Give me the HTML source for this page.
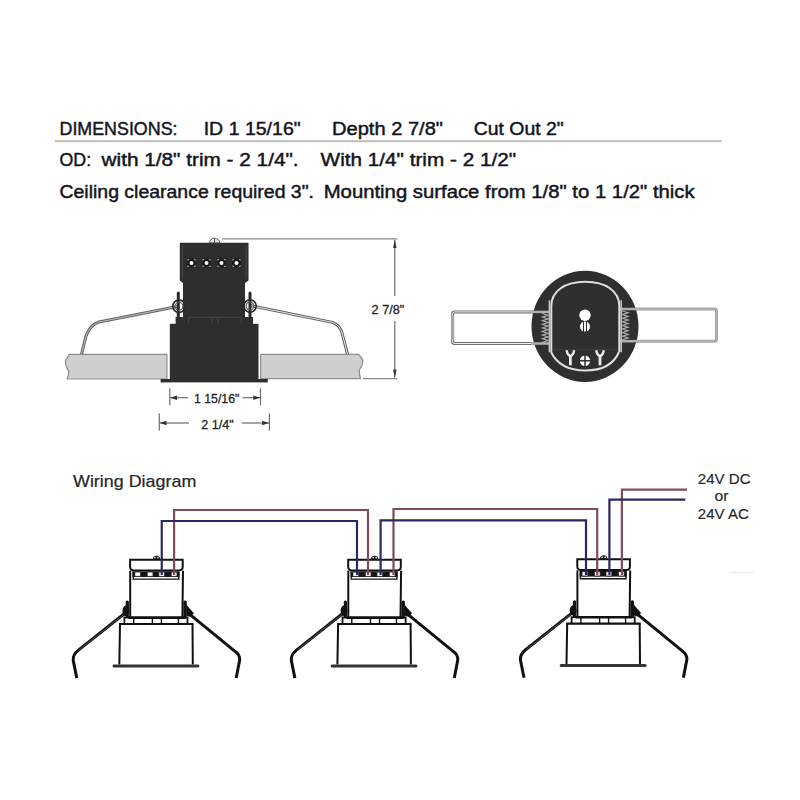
<!DOCTYPE html>
<html><head><meta charset="utf-8">
<style>
html,body{margin:0;padding:0;background:#fff;width:800px;height:800px;overflow:hidden}
svg{display:block}
text{font-family:"Liberation Sans",sans-serif}
</style></head>
<body>
<svg width="800" height="800" viewBox="0 0 800 800">
<rect width="800" height="800" fill="#fff"/>
<!-- header -->
<g fill="#141420" stroke="#141420" stroke-width="0.45" font-size="18.3">
<text x="59.5" y="134.7" textLength="118" lengthAdjust="spacingAndGlyphs">DIMENSIONS:</text>
<text x="203.7" y="134.7" textLength="97" lengthAdjust="spacingAndGlyphs">ID 1 15/16"</text>
<text x="332" y="134.7" textLength="111" lengthAdjust="spacingAndGlyphs">Depth 2 7/8"</text>
<text x="473.7" y="134.7" textLength="90" lengthAdjust="spacingAndGlyphs">Cut Out 2"</text>
<text x="59.5" y="165.8" textLength="31.6" lengthAdjust="spacingAndGlyphs">OD:</text>
<text x="101.6" y="165.8" textLength="197" lengthAdjust="spacingAndGlyphs">with 1/8" trim - 2 1/4".</text>
<text x="320.6" y="165.8" textLength="195.5" lengthAdjust="spacingAndGlyphs">With 1/4" trim - 2 1/2"</text>
<text x="59.5" y="197.8" textLength="254.5" lengthAdjust="spacingAndGlyphs">Ceiling clearance required 3".</text>
<text x="323.7" y="197.8" textLength="371" lengthAdjust="spacingAndGlyphs">Mounting surface from 1/8" to 1 1/2" thick</text>
</g>
<rect x="54.7" y="140.2" width="667" height="2" fill="#bdbdbd"/>

<!-- side view -->
<g id="side">
  <!-- slabs -->
  <path d="M69.3,354.4 L166.9,354.4 L166.9,379 L67.1,379 Q68.8,375 68.8,371.4 Q65.2,366 65.4,360.8 Z" fill="#cfcfcf" stroke="#8e8e8e" stroke-width="1.2"/>
  <path d="M260.7,354.3 L358.3,354.3 Q361.5,357 362.8,360.2 Q363,365 359.3,369.8 Q359.2,375 360.5,378.7 L260.7,378.7 Z" fill="#cfcfcf" stroke="#8e8e8e" stroke-width="1.2"/>
  <!-- springs -->
  <path d="M178.6,306.2 L99,322 Q90,325 86,336 L81.5,354.4" fill="none" stroke="#666" stroke-width="3"/>
  <path d="M178.6,306.2 L99,322 Q90,325 86,336 L81.5,354.4" fill="none" stroke="#c4c4c4" stroke-width="0.9"/>
  <path d="M250.1,305.5 L332.3,322.4 Q340,325 342,333 L347.6,354.3" fill="none" stroke="#5e5e5e" stroke-width="3"/>
  <path d="M250.1,305.5 L332.3,322.4 Q340,325 342,333 L347.6,354.3" fill="none" stroke="#e8e8e8" stroke-width="1"/>
  <!-- body -->
  <g fill="#2e2e2e">
    <path d="M179.8,242.8 L248.5,242.8 L248.5,280.6 L245,283 L245,317 L183,317 L183,283 L179.8,280.6 Z"/>
    <rect x="175.6" y="317" width="77.4" height="7"/>
    <rect x="169.8" y="323.8" width="88.7" height="55.5"/>
    <rect x="160.6" y="379" width="107.2" height="3.4"/>
  </g>
  <g stroke="#464646" stroke-width="1" fill="none">
    <path d="M188.5,323.5 L188.5,317.3 L241,317.3 L241,323.5"/>
    <line x1="212" y1="317.5" x2="212" y2="323.5"/>
    <line x1="218" y1="317.5" x2="218" y2="323.5"/>
    <line x1="182.5" y1="246" x2="182.5" y2="279"/>
    <line x1="246" y1="246" x2="246" y2="279"/>
  </g>
  <!-- terminals -->
  <g fill="#1a1a1a">
    <rect x="187" y="258.5" width="9" height="9"/>
    <rect x="202" y="258.5" width="9" height="9"/>
    <rect x="217" y="258.5" width="9" height="9"/>
    <rect x="232" y="258.5" width="9" height="9"/>
  </g>
  <g fill="#fff">
    <circle cx="191.5" cy="263" r="2"/>
    <circle cx="206.5" cy="263" r="2"/>
    <circle cx="221.5" cy="263" r="2"/>
    <circle cx="236.5" cy="263" r="2"/>
  </g>
  <g fill="#bbb">
    <path d="M187.5,259 l2,0 l-2,2 z M195.5,259 l-2,0 l2,2 z M187.5,267 l2,0 l-2,-2 z M195.5,267 l-2,0 l2,-2 z"/>
    <path d="M202.5,259 l2,0 l-2,2 z M210.5,259 l-2,0 l2,2 z M202.5,267 l2,0 l-2,-2 z M210.5,267 l-2,0 l2,-2 z"/>
    <path d="M217.5,259 l2,0 l-2,2 z M225.5,259 l-2,0 l2,2 z M217.5,267 l2,0 l-2,-2 z M225.5,267 l-2,0 l2,-2 z"/>
    <path d="M232.5,259 l2,0 l-2,2 z M240.5,259 l-2,0 l2,2 z M232.5,267 l2,0 l-2,-2 z M240.5,267 l-2,0 l2,-2 z"/>
  </g>
  <path d="M209.3,242.8 A5.2,4.6 0 0 1 219.7,242.8 Z" fill="#e6e6e6" stroke="#555" stroke-width="1"/>
  <line x1="214.5" y1="238.6" x2="214.5" y2="242.8" stroke="#555" stroke-width="1"/>
  <!-- clips -->
  <g stroke="#2a2a2a" fill="none">
    <line x1="178.3" y1="293" x2="178.3" y2="317" stroke-width="3" stroke-linecap="round"/>
    <line x1="250" y1="293" x2="250" y2="317" stroke-width="3" stroke-linecap="round"/>
    <circle cx="179" cy="306.3" r="6.2" stroke-width="1.6"/>
    <circle cx="250" cy="306" r="6.2" stroke-width="1.6"/>
    <circle cx="179" cy="306.3" r="3.9" stroke-width="1.1" stroke="#555"/>
    <circle cx="250" cy="306" r="3.9" stroke-width="1.1" stroke="#555"/>
  </g>
  <!-- dimension 2 7/8 -->
  <g stroke="#6e6e6e" stroke-width="1.2" fill="none">
    <line x1="222" y1="238.8" x2="397.5" y2="238.8" stroke="#8a8a8a"/>
    <line x1="363" y1="378.6" x2="397.5" y2="378.6" stroke="#8a8a8a"/>
    <line x1="394.8" y1="240" x2="394.8" y2="296"/>
    <line x1="394.8" y1="321" x2="394.8" y2="377"/>
    <line x1="169.8" y1="388.2" x2="169.8" y2="405.3"/>
    <line x1="260.5" y1="388.2" x2="260.5" y2="405.3"/>
    <line x1="170" y1="397.7" x2="188" y2="397.7"/>
    <line x1="242.6" y1="397.7" x2="260" y2="397.7"/>
    <line x1="159.3" y1="413.4" x2="159.3" y2="430.6"/>
    <line x1="269.4" y1="413.4" x2="269.4" y2="430.6"/>
    <line x1="160" y1="423" x2="189" y2="423"/>
    <line x1="241.8" y1="423" x2="269" y2="423"/>
  </g>
  <g fill="#333">
    <path d="M394.8,239.2 L393.1,248 L396.5,248 Z"/>
    <path d="M394.8,378.2 L393.1,369.4 L396.5,369.4 Z"/>
    <path d="M170.3,397.7 L177,395.5 L177,399.9 Z"/>
    <path d="M260,397.7 L253.3,395.5 L253.3,399.9 Z"/>
    <path d="M159.8,423 L166.5,420.8 L166.5,425.2 Z"/>
    <path d="M268.9,423 L262.2,420.8 L262.2,425.2 Z"/>
  </g>
  <g fill="#222" stroke="#222" stroke-width="0.3" font-size="13.5">
    <text x="371.6" y="313.8" textLength="32.7" lengthAdjust="spacingAndGlyphs">2 7/8"</text>
    <text x="193.9" y="402.6" textLength="45.5" lengthAdjust="spacingAndGlyphs">1 15/16"</text>
    <text x="201.2" y="428.6" textLength="32.5" lengthAdjust="spacingAndGlyphs">2 1/4"</text>
  </g>
</g>

<!-- top view -->
<g id="top">
  <path d="M552,311.9 L454.5,311.9 Q452.6,311.9 452.6,313.8 L452.6,341.6 Q452.6,343.5 454.5,343.5 L552,343.5" fill="none" stroke="#6c6c6c" stroke-width="3"/>
  <path d="M552,311.9 L454.5,311.9 Q452.6,311.9 452.6,313.8 L452.6,341.6 Q452.6,343.5 454.5,343.5 L552,343.5" fill="none" stroke="#f2f2f2" stroke-width="1"/>
  <path d="M452.6,315 L452.6,340" fill="none" stroke="#a8a8a8" stroke-width="3"/>
  <path d="M618,309 L714.5,309 Q716.5,309 716.5,311 L716.5,339.2 Q716.5,341.2 714.5,341.2 L618,341.2" fill="none" stroke="#a2a2a2" stroke-width="3"/>
  <path d="M618,309 L714.5,309 Q716.5,309 716.5,311 L716.5,339.2 Q716.5,341.2 714.5,341.2 L618,341.2" fill="none" stroke="#b8b8b8" stroke-width="1"/>
  <ellipse cx="585" cy="326.3" rx="53.5" ry="55.6" fill="#2f2f2f"/>
  <!-- coil springs -->
  <g stroke="#a6a6a6" stroke-width="1.3" fill="none" stroke-linecap="round">
    <path d="M542.5,313.5 l5.5,1.8 l-5.5,1.8 l5.5,1.8 l-5.5,1.8 l5.5,1.8 l-5.5,1.8 l5.5,1.8 l-5.5,1.8 l5.5,1.8 l-5.5,1.8 l5.5,1.8 l-5.5,1.8 l5.5,1.8 l-5.5,1.8 l5.5,1.8 l-5.5,1.8 "/>
    <path d="M622.5,311 l5.5,1.8 l-5.5,1.8 l5.5,1.8 l-5.5,1.8 l5.5,1.8 l-5.5,1.8 l5.5,1.8 l-5.5,1.8 l5.5,1.8 l-5.5,1.8 l5.5,1.8 l-5.5,1.8 l5.5,1.8 l-5.5,1.8 l5.5,1.8 l-5.5,1.8 "/>
  </g>
  <!-- wire pieces over circle -->
  <g stroke="#b0b0b0" stroke-width="2.5">
    <line x1="531" y1="311.9" x2="550" y2="311.9"/>
    <line x1="531" y1="343.5" x2="550" y2="343.5"/>
    <line x1="620" y1="309" x2="639" y2="309"/>
    <line x1="620" y1="341.2" x2="639" y2="341.2"/>
  </g>
  <g fill="none" stroke="#dedede" stroke-width="2">
    <path d="M551.3,352 L551.3,306 C551.3,291 565,281.7 585.2,281.7 C605.5,281.7 619.3,291 619.3,306 L619.3,352"/>
    <path d="M551,352 Q560,370.5 585.4,370.5 Q611,370.5 619,352"/>
  </g>
  <g stroke="#c4c4c4" stroke-width="1.6">
    <line x1="549.4" y1="300.3" x2="549.4" y2="352.2"/>
    <line x1="621.2" y1="300.3" x2="621.2" y2="352.2"/>
  </g>
  <line x1="553" y1="349.6" x2="618" y2="349.6" stroke="#3e3e3e" stroke-width="1"/>
  <g fill="#fff">
    <circle cx="585" cy="315.3" r="5.7"/>
    <circle cx="585" cy="326.6" r="5"/>
    <circle cx="585" cy="360.8" r="5.2"/>
  </g>
  <g stroke="#2f2f2f" stroke-width="1">
    <line x1="583.5" y1="321" x2="583.5" y2="332"/>
    <line x1="586.5" y1="321" x2="586.5" y2="332"/>
    <line x1="579" y1="360.8" x2="591" y2="360.8" stroke-width="1.5"/>
    <line x1="585" y1="354.8" x2="585" y2="366.8" stroke-width="1.5"/>
  </g>
  <g stroke="#ececec" fill="none">
    <path d="M566.6,350.3 Q567.5,355.5 570.4,356 Q573.3,355.5 574.2,350.3" stroke-width="2.4"/>
    <path d="M570.4,355 L570.4,365.3" stroke-width="2.8"/>
    <path d="M596.2,350.3 Q597.1,355.5 600,356 Q602.9,355.5 603.8,350.3" stroke-width="2.4"/>
    <path d="M600,355 L600,365.3" stroke-width="2.8"/>
  </g>
</g>

<!-- wiring diagram -->
<text x="73" y="486.5" font-size="16.1" fill="#262626" stroke="#262626" stroke-width="0.2" textLength="123.3" lengthAdjust="spacingAndGlyphs">Wiring Diagram</text>
<g fill="#262626" stroke="#262626" stroke-width="0.15" font-size="14.9">
  <text x="697.8" y="483.5" textLength="52.8" lengthAdjust="spacingAndGlyphs">24V DC</text>
  <text x="714.4" y="501" textLength="14" lengthAdjust="spacingAndGlyphs">or</text>
  <text x="697.8" y="518.6" textLength="51" lengthAdjust="spacingAndGlyphs">24V AC</text>
</g>

<defs>
<g id="fx">
  <!-- origin: cap left x, y 0 = 558.8 -->
  <g fill="none" stroke="#111" stroke-width="2">
    <path d="M0.7,0.9 L53.3,0.9 L53.3,8 Q53.3,11.6 49.5,11.6 L4.5,11.6 Q0.7,11.6 0.7,8 Z" stroke-width="2"/>
    <line x1="0.8" y1="12" x2="0.8" y2="58.7"/>
    <line x1="53.6" y1="12" x2="53" y2="58.7"/>
    <path d="M-5,65.2 L-5,58.7 L58.1,58.7 L58.1,65.2" stroke-width="1.8"/>
    <path d="M-9.4,65.2 L-10.1,105.7 M63.1,65.2 L63.4,105.7"/>
  </g>
  <line x1="-1" y1="58.9" x2="56" y2="58.9" stroke="#111" stroke-width="2.6"/>
  <line x1="-10.4" y1="65.2" x2="64.1" y2="65.2" stroke="#111" stroke-width="2.2"/>
  <g stroke="#111" stroke-width="1.4">
    <line x1="4.3" y1="59" x2="4.3" y2="65"/>
    <line x1="23" y1="59" x2="23" y2="65"/>
    <line x1="32" y1="59" x2="32" y2="65"/>
    <line x1="49" y1="59" x2="49" y2="65"/>
  </g>
  <rect x="3.1" y="12.6" width="46.9" height="5.6" fill="#151515"/>
  <path d="M3.8,13 L3.8,20.3 L49.4,20.3 L49.4,13" fill="none" stroke="#151515" stroke-width="1.4"/>
  <g fill="#fff" stroke="#151515" stroke-width="0.8">
    <rect x="5.4" y="13.2" width="5.8" height="4.4" rx="0.6"/>
    <rect x="17.8" y="13.2" width="5.8" height="4.4" rx="0.6"/>
    <rect x="29.4" y="13.2" width="5.8" height="4.4" rx="0.6"/>
    <rect x="41.8" y="13.2" width="5.8" height="4.4" rx="0.6"/>
  </g>
  <rect x="-16.9" y="105.7" width="86.9" height="3" rx="1.5" fill="#333"/>
  <path d="M23.4,0.5 A3.7,3.6 0 0 1 30.8,0.5 Z" fill="#1a1a1a"/><circle cx="25.6" cy="-1.2" r="0.9" fill="#ccc"/><circle cx="28.6" cy="-1.2" r="0.9" fill="#ccc"/>
  <!-- clips -->
  <g fill="#111">
    <rect x="-3.7" y="41.8" width="3.2" height="17" rx="1.5"/>
    <ellipse cx="-3.5" cy="52" rx="3.4" ry="5.2"/>
    <rect x="54" y="41.8" width="3.4" height="17" rx="1.5"/>
    <path d="M57,46 L64.5,54.5 L61,58 L57,57 Z"/>
  </g>
  <path d="M-4.5,54.5 L-51.3,91.6 Q-56.6,95.8 -56.2,101.5 L-52.6,119.3" fill="none" stroke="#111" stroke-width="3"/>
  <path d="M-6,56 L-50,91" fill="none" stroke="#777" stroke-width="0.6"/>
  <path d="M61,56 L105.6,92.5 Q110.6,96 110.3,101 L106.8,119.2" fill="none" stroke="#111" stroke-width="3"/>
</g>
</defs>
<use href="#fx" transform="translate(129.4,558.8)"/>
<use href="#fx" transform="translate(347.5,558.8)"/>
<use href="#fx" transform="translate(576.6,558.4)"/>

<line x1="729" y1="572.5" x2="755" y2="572.5" stroke="#ececec" stroke-width="1.2"/>
<!-- wires -->
<g fill="none" stroke-width="2.2">
  <path d="M174.1,575 L174.1,510 L368,510 L368,575" stroke="#814a56"/>
  <path d="M161.75,575 L161.75,521 L357,521 L357,575" stroke="#2a2864"/>
  <path d="M393.5,575 L393.5,509 L597.2,509 L597.2,575" stroke="#814a56"/>
  <path d="M380.6,575 L380.6,520.3 L586,520.3 L586,575" stroke="#2a2864"/>
  <path d="M621.9,575 L621.9,489.7 L687,489.7" stroke="#814a56"/>
  <path d="M609.4,575 L609.4,499.7 L685.3,499.7" stroke="#2a2864"/>
</g>
</svg>
</body></html>
